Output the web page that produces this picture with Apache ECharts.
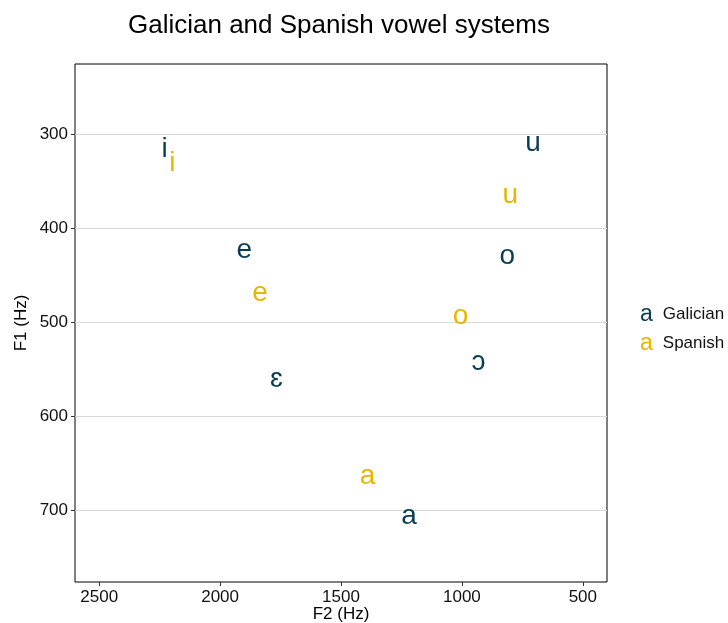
<!DOCTYPE html>
<html>
<head>
<meta charset="utf-8">
<script src="https://cdn.jsdelivr.net/npm/echarts@6/dist/echarts.min.js"></script>
<style>
  html, body { margin: 0; padding: 0; background: #fff; }
  #chart { width: 728px; height: 623px; }
</style>
</head>
<body>
<div id="chart"></div>
<script>
// ---- data ----
const vowelsGalician = ['i', 'e', 'ɛ', 'a', 'ɔ', 'o', 'u'];
const f2Galician = [2229, 1900, 1767, 1219, 931, 812, 706];
const f1Galician = [316, 423, 560, 706, 542, 430, 309];

const vowelsSpanish = ['i', 'e', 'a', 'o', 'u'];
const f2Spanish = [2197, 1835, 1390, 1006, 800];
const f1Spanish = [331, 469, 664, 493, 365];

const xTicks = [500, 1000, 1500, 2000, 2500];
const yTicks = [300, 400, 500, 600, 700];

const seriesNames = ['Galician', 'Spanish'];
const colGal = '#0B3D51';
const colSpa = '#E8B600';
const FONT = 'Liberation Sans, Arial, Helvetica, sans-serif';

function pts(f2, f1, v) {
  return f2.map((x, i) => [x, f1[i], v[i]]);
}

const chart = echarts.init(document.getElementById('chart'), null, { renderer: 'canvas' });

function vowelSeries(name, data, color) {
  return {
    name: name,
    type: 'scatter',
    data: data,
    symbol: 'circle',
    symbolSize: 1,
    itemStyle: { color: 'rgba(255,255,255,0)', opacity: 1 },
    label: {
      show: true,
      position: 'inside',
      formatter: p => p.value[2],
      color: color,
      opacity: 1,
      textBorderWidth: 0,
      fontSize: 28,
      fontFamily: FONT
    },
    emphasis: { disabled: true },
    animation: false
  };
}

const option = {
  backgroundColor: '#fff',
  animation: false,
  title: {
    text: 'Galician and Spanish vowel systems',
    left: 128,
    top: 13,
    padding: 0,
    textStyle: { fontSize: 26, fontWeight: 'normal', color: '#000', fontFamily: FONT }
  },
  grid: {
    left: 75, right: 121, top: 64, bottom: 41,
    outerBoundsMode: 'none',
    containLabel: false,
    show: true, borderColor: '#000', borderWidth: 1, backgroundColor: 'transparent'
  },
  legend: {
    orient: 'vertical',
    left: 635,
    top: 300,
    padding: 0,
    icon: 'none',
    itemWidth: 0,
    itemHeight: 0,
    itemGap: 0,
    data: seriesNames,
    formatter: name => (name === 'Galician' ? '{g|a}' : '{s|a}') + '{t|' + name + '}',
    textStyle: {
      fontFamily: FONT,
      lineHeight: 29,
      rich: {
        g: { fontSize: 23, color: colGal, fontFamily: FONT, lineHeight: 29 },
        s: { fontSize: 23, color: colSpa, fontFamily: FONT, lineHeight: 29 },
        t: { fontSize: 17, color: '#111', fontFamily: FONT, padding: [0, 0, 0, 10], lineHeight: 29 }
      }
    },
    selectedMode: false
  },
  xAxis: {
    type: 'value',
    inverse: true,
    min: 400,
    max: 2600,
    name: 'F2 (Hz)',
    nameLocation: 'middle',
    nameGap: 24,
    nameMoveOverlap: false,
    nameTextStyle: { fontSize: 17, color: '#000', fontFamily: FONT },
    axisLine: { show: false },
    axisTick: { show: true, length: 4, customValues: xTicks, lineStyle: { color: '#333' } },
    axisLabel: { customValues: xTicks, formatter: v => String(v), fontSize: 17, color: '#111', margin: 7, fontFamily: FONT },
    splitLine: { show: false }
  },
  yAxis: {
    type: 'value',
    inverse: true,
    min: 225,
    max: 776,
    name: 'F1 (Hz)',
    nameLocation: 'middle',
    nameGap: 45,
    nameMoveOverlap: false,
    nameRotate: 90,
    nameTextStyle: { fontSize: 17, color: '#000', fontFamily: FONT },
    axisLine: { show: false },
    axisTick: { show: true, length: 4, customValues: yTicks, lineStyle: { color: '#333' } },
    axisLabel: { customValues: yTicks, formatter: v => String(v), fontSize: 17, color: '#111', margin: 7, fontFamily: FONT },
    splitLine: { show: true, lineStyle: { color: '#d9d9d9', width: 1.2 } }
  },
  series: [
    vowelSeries('Galician', pts(f2Galician, f1Galician, vowelsGalician), colGal),
    vowelSeries('Spanish', pts(f2Spanish, f1Spanish, vowelsSpanish), colSpa)
  ]
};

chart.setOption(option);
</script>
</body>
</html>
